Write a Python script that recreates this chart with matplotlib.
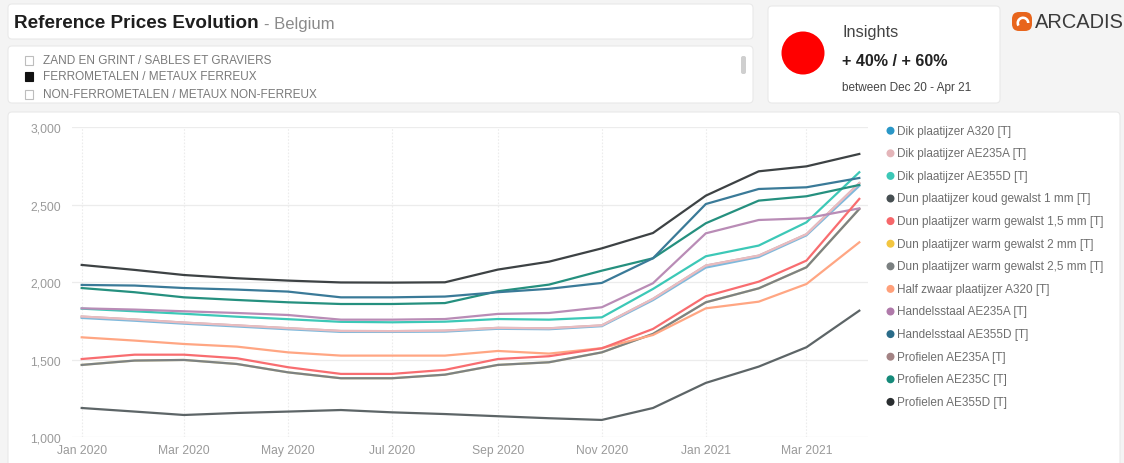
import matplotlib
matplotlib.use("Agg")
import matplotlib.pyplot as plt
import matplotlib.dates as mdates
from matplotlib.patches import FancyBboxPatch, Circle, Rectangle, Wedge
import pandas as pd

plt.rcParams['font.family'] = ['Liberation Sans', 'DejaVu Sans']

W, H = 1124, 464

# ---------------- data ----------------
months = pd.date_range("2020-01-01", "2021-04-01", freq="MS")
tick_months = pd.date_range("2020-01-01", "2021-03-01", freq="2MS")
tick_labels = [d.strftime("%b %Y") for d in tick_months]
y_ticks = [1000, 1500, 2000, 2500, 3000]

legend_names = [
    "Dik plaatijzer A320 [T]",
    "Dik plaatijzer AE235A [T]",
    "Dik plaatijzer AE355D [T]",
    "Dun plaatijzer koud gewalst 1 mm [T]",
    "Dun plaatijzer warm gewalst 1,5 mm [T]",
    "Dun plaatijzer warm gewalst 2 mm [T]",
    "Dun plaatijzer warm gewalst 2,5 mm [T]",
    "Half zwaar plaatijzer A320 [T]",
    "Handelsstaal AE235A [T]",
    "Handelsstaal AE355D [T]",
    "Profielen AE235A [T]",
    "Profielen AE235C [T]",
    "Profielen AE355D [T]",
]

dik_a320 = [1770, 1752, 1733, 1715, 1697, 1680, 1680, 1682, 1700, 1697, 1717, 1885, 2095, 2163, 2303, 2622]
dik_ae235a = [1779, 1760, 1740, 1722, 1704, 1686, 1685, 1688, 1706, 1703, 1722, 1893, 2108, 2172, 2310, 2640]
dik_ae355d = [1830, 1813, 1797, 1778, 1762, 1745, 1742, 1746, 1763, 1759, 1774, 1957, 2168, 2237, 2387, 2710]
koud_1mm = [1189, 1166, 1144, 1157, 1166, 1176, 1161, 1150, 1136, 1123, 1112, 1189, 1351, 1456, 1581, 1817]
warm_15mm = [1505, 1533, 1533, 1510, 1452, 1409, 1409, 1435, 1505, 1523, 1574, 1699, 1910, 2004, 2140, 2538]
warm_2mm = [1467, 1495, 1499, 1473, 1419, 1381, 1381, 1404, 1467, 1484, 1548, 1667, 1871, 1961, 2097, 2473]
warm_25mm = [1467, 1495, 1499, 1473, 1419, 1381, 1381, 1404, 1467, 1484, 1548, 1667, 1871, 1961, 2097, 2473]
half_zwaar_a320 = [1645, 1624, 1602, 1585, 1548, 1527, 1527, 1527, 1557, 1540, 1575, 1660, 1832, 1875, 1989, 2258]
handelsstaal_ae235a = [1832, 1824, 1813, 1802, 1789, 1759, 1759, 1763, 1796, 1802, 1839, 1994, 2316, 2402, 2413, 2477]
handelsstaal_ae355d = [1983, 1979, 1963, 1953, 1940, 1903, 1903, 1908, 1936, 1958, 1996, 2155, 2505, 2602, 2613, 2673]
profielen_ae235a = [1779, 1760, 1740, 1722, 1704, 1686, 1685, 1688, 1706, 1703, 1722, 1893, 2108, 2172, 2310, 2640]
profielen_ae235c = [1963, 1936, 1903, 1886, 1871, 1860, 1860, 1866, 1942, 1985, 2075, 2155, 2381, 2527, 2555, 2628]
profielen_ae355d = [2112, 2080, 2047, 2026, 2011, 1999, 1998, 2000, 2082, 2133, 2219, 2318, 2559, 2716, 2748, 2828]

series_values = [dik_a320, dik_ae235a, dik_ae355d, koud_1mm, warm_15mm, warm_2mm, warm_25mm,
                 half_zwaar_a320, handelsstaal_ae235a, handelsstaal_ae355d, profielen_ae235a,
                 profielen_ae235c, profielen_ae355d]

legend_colors = ["#2a97c7", "#e4b5b9", "#3cc8b7", "#474f52", "#f6676a", "#f3c640", "#7b8081",
                 "#ffa07a", "#b07aaa", "#2b6c89", "#a38384", "#168a7a", "#2a2e30"]
line_colors = ["#7fb9dc", "#e9bcc0", "#3cc8b7", "#5d6567", "#f86d70", "#e8d9a0", "#7d8282",
               "#ffa683", "#b98cb6", "#3a7a98", "#c4a8aa", "#25907f", "#3d4244"]
draw_order = [5, 6, 10, 0, 1, 2, 8, 7, 4, 3, 11, 9, 12]

# ---------------- figure ----------------
fig = plt.figure(figsize=(W / 100, H / 100), dpi=100, facecolor="#f4f4f4")
bg = fig.add_axes([0, 0, 1, 1])
bg.set_xlim(0, W)
bg.set_ylim(H, 0)
bg.axis("off")


def box(x0, y0, x1, y1, r=4):
    bg.add_patch(FancyBboxPatch((x0, y0), x1 - x0, y1 - y0,
                                boxstyle=f"round,pad=0,rounding_size={r}",
                                facecolor="white", edgecolor="#e9e9e9", lw=0.8))


box(8, 5, 753, 40)
box(8, 47, 753, 104)
box(768, 7, 1000, 104)
box(8, 113, 1120, 470)

# title
t1 = bg.text(14, 23, "Reference Prices Evolution", fontsize=13.6, fontweight="bold",
             color="#1e1e1e", va="center", ha="left")
fig.canvas.draw()
r = fig.canvas.get_renderer()
bb = t1.get_window_extent(renderer=r)
bg.text(bb.x1 + 5, 24, "- Belgium", fontsize=12, color="#8a8a8a", va="center", ha="left")

# filter list
filters = ["ZAND EN GRINT / SABLES ET GRAVIERS", "FERROMETALEN / METAUX FERREUX",
           "NON-FERROMETALEN / METAUX NON-FERREUX"]
for i, (lab, yy) in enumerate(zip(filters, [61, 77, 95])):
    filled = i == 1
    bg.add_patch(Rectangle((25, yy - 4.5), 8, 9, facecolor="#111111" if filled else "white",
                           edgecolor="#111111" if filled else "#bdbdbd", lw=0.8))
    bg.text(43, yy, lab, fontsize=8.5, color="#7a7a7a", va="center", ha="left")
bg.add_patch(FancyBboxPatch((741, 57), 5, 18, boxstyle="round,pad=0,rounding_size=2",
                            facecolor="#cfcfcf", edgecolor="none"))

# insights
bg.add_patch(Circle((803, 54), 21.5, facecolor="#ff0000", edgecolor="none"))
bg.text(842, 33, "Insights", fontsize=11.8, color="#444444", va="center", ha="left")
bg.text(842, 61, "+ 40% / + 60%", fontsize=11.6, fontweight="bold", color="#222222",
        va="center", ha="left")
bg.text(842, 88, "between Dec 20 - Apr 21", fontsize=8.5, color="#444444", va="center", ha="left")

# logo
bg.add_patch(FancyBboxPatch((1012, 13), 20, 19, boxstyle="round,pad=0,rounding_size=7",
                            facecolor="#e8651c", edgecolor="none"))
bg.add_patch(Wedge((1023, 24), 6.5, 150, 360, width=2.6, facecolor="white", edgecolor="none"))
bg.text(1035, 22.5, "ARCADIS", fontsize=14.4, color="#3a3a3a", va="center", ha="left")

# legend
for i, (name, c) in enumerate(zip(legend_names, legend_colors)):
    yy = 131.7 + i * 22.6
    bg.add_patch(Circle((890.5, yy), 4, facecolor=c, edgecolor="none"))
    bg.text(897, yy, name, fontsize=8.5, color="#6e6e6e", va="center", ha="left")

# ---------------- chart ----------------
ax = fig.add_axes([72 / W, 1 - 438.3 / H, (868 - 72) / W, (438.3 - 128.3) / H])
ax.patch.set_alpha(0)
x0 = mdates.date2num(months[0])
x1 = mdates.date2num(months[-1])
ppd = (859.3 - 81.7) / (x1 - x0)
ax.set_xlim(x0 - 9.7 / ppd, x1 + 8.7 / ppd)
ax.set_ylim(1000, 3000)

for idx in draw_order:
    ax.plot(months, series_values[idx], color=line_colors[idx], lw=1.6,
            solid_joinstyle="round", clip_on=False, zorder=3)

ax.set_yticks(y_ticks)
ax.set_yticklabels([f"{v:,}" for v in y_ticks])
ax.set_xticks(mdates.date2num(tick_months))
ax.set_xticklabels(tick_labels)
ax.tick_params(axis="both", length=0, labelsize=8.7, colors="#9a9a9a")
ax.tick_params(axis="x", pad=5)
ax.tick_params(axis="y", pad=8)
ax.grid(axis="y", color="#ececec", lw=0.9)
ax.grid(axis="x", color="#ececec", lw=0.8, ls=(0, (1.5, 1.5)))
ax.set_axisbelow(True)
for s in ax.spines.values():
    s.set_visible(False)

fig.savefig("out.png", dpi=100, facecolor=fig.get_facecolor())
